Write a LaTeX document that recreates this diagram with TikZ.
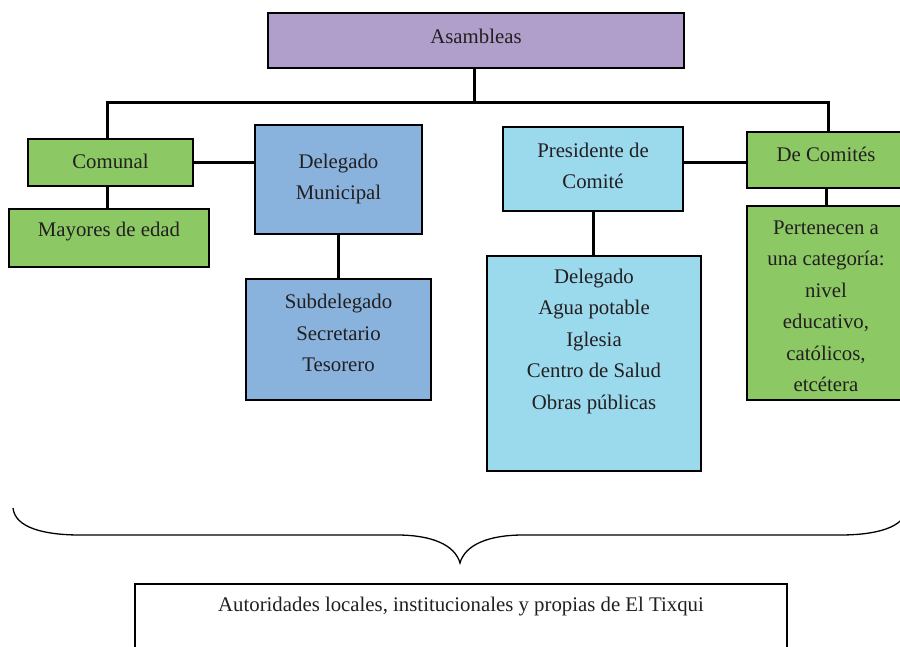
\documentclass[tikz,border=0pt]{standalone}
\usepackage{fontspec}
\setmainfont{Liberation Serif}
\definecolor{purp}{HTML}{AF9FCA}
\definecolor{grn}{HTML}{8CC864}
\definecolor{blu}{HTML}{89B3DD}
\definecolor{lblu}{HTML}{9BD9ED}
\definecolor{ink}{HTML}{231F20}
\begin{document}
\begin{tikzpicture}[x=1pt,y=-1pt,
  box/.style={draw=black, line width=2pt, inner sep=0pt},
  txt/.style={font=\fontsize{20.8}{31.5}\selectfont, align=center, text=ink, inner sep=0pt},
  conn/.style={line width=3pt},
  bracestyle/.style={line width=1.3pt}]
\clip (0,0) rectangle (900,646);
\fill[white] (0,0) rectangle (900,646);
% boxes
\node[box, fill=purp, minimum width=416pt, minimum height=55pt] (asm) at (476,40.5) {};
\node[box, fill=grn, minimum width=165pt, minimum height=47pt] (com) at (110.5,162.5) {};
\node[box, fill=grn, minimum width=200pt, minimum height=58pt] (may) at (109,238) {};
\node[box, fill=blu, minimum width=167pt, minimum height=109pt] (dm) at (338.5,179.5) {};
\node[box, fill=blu, minimum width=185pt, minimum height=121pt] (sub) at (338.5,339.5) {};
\node[box, fill=lblu, minimum width=180pt, minimum height=84pt] (pres) at (593,169) {};
\node[box, fill=lblu, minimum width=214pt, minimum height=215pt] (del) at (594,363.5) {};
\node[box, fill=grn, minimum width=159pt, minimum height=56pt] (dec) at (826.5,160) {};
\node[box, fill=grn, minimum width=159pt, minimum height=194pt] (per) at (826.5,303) {};
\node[box, fill=white, minimum width=652pt, minimum height=76pt] (bot) at (461,622) {};
% texts
\node[txt] (asmT) at (476,36) {Asambleas};
\node[txt] (comT) at (110.5,161) {Comunal};
\node[txt] (mayT) at (109,232) {Mayores de edad};
\node[txt] (dmT) at (338.5,179) {Delegado\\Municipal};
\node[txt] (subT) at (338.5,333) {Subdelegado\\Secretario\\Tesorero};
\node[txt] (presT) at (593,166) {Presidente de\\Comité};
\node[txt] (delT) at (594,341) {Delegado\\Agua potable\\Iglesia\\Centro de Salud\\Obras públicas};
\node[txt] (decT) at (826,154) {De Comités};
\node[txt] (perT) at (826,306.5) {Pertenecen a\\una categoría:\\nivel\\educativo,\\católicos,\\etcétera};
\node[txt] (botT) at (461,607) {Autoridades locales, institucionales y propias de El Tixqui};
% connectors
\coordinate (j) at (474,102);
\coordinate (jl) at (107,102);
\coordinate (jr) at (828,102);
\coordinate (hr) at (0,162);
\draw[conn] (asm.south -| j) -- (j);
\draw[conn] (com.north -| jl) -- (jl) -- (jr) -- (dec.north -| jr);
\draw[conn] (com.south -| jl) -- (may.north -| jl);
\draw[conn] (com.east |- hr) -- (dm.west |- hr);
\draw[conn] (dm.south) -- (sub.north);
\draw[conn] (pres.east |- hr) -- (dec.west |- hr);
\draw[conn] (pres.south) -- (pres.south |- del.north);
\draw[conn] (dec.south) -- (per.north);
% brace
\coordinate (bl) at (13,508);
\coordinate (bt) at (460,563);
\coordinate (br) at (907,508);
\draw[bracestyle] (bl) .. controls (15,528) and (45,535) .. (80,535) -- (397,535)
  .. controls (432,535) and (455,545) .. (bt)
  .. controls (465,545) and (488,535) .. (523,535) -- (840,535)
  .. controls (875,535) and (905,528) .. (br);
\end{tikzpicture}
\end{document}
